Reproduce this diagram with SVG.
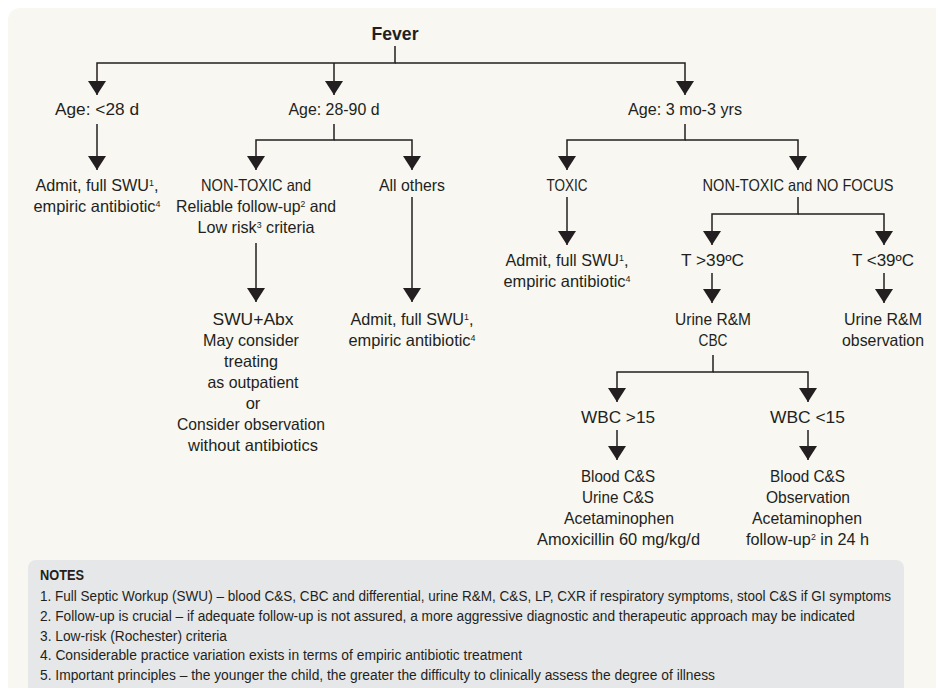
<svg xmlns="http://www.w3.org/2000/svg" width="936" height="688" viewBox="0 0 936 688">
<style>
text{font-family:"Liberation Sans",Arial,sans-serif;fill:#231f20;}
.n{font-size:16.5px;text-anchor:middle;}
.b{font-weight:bold;}
.s{font-size:9px;}
.note{font-size:14px;}
.c{fill:none;stroke:#231f20;stroke-width:1.5;}
</style>
<defs>
<marker id="ah" markerUnits="userSpaceOnUse" markerWidth="14" markerHeight="18" refX="14" refY="9" orient="auto" viewBox="0 0 14 18">
<path d="M0,0 L14,9 L0,18 z" fill="#231f20"/>
</marker>
</defs>
<rect id="panel" x="8" y="8" width="960" height="720" rx="12" fill="#f8f7f1"/>
<g id="connectors" class="c" marker-end="url(#ah)">
<path d="M395,46 V63 H97 V95"/>
<path d="M334,63 V95"/>
<path d="M395,63 H685 V95"/>
<path d="M97,124 V170"/>
<path d="M334,124 V140 H256 V170"/>
<path d="M334,140 H412 V170"/>
<path d="M685,124 V140 H567 V170"/>
<path d="M685,140 H798 V170"/>
<path d="M256,243 V302"/>
<path d="M412,197 V302"/>
<path d="M567,197 V245"/>
<path d="M798,197 V214 H712 V245"/>
<path d="M798,214 H884 V245"/>
<path d="M712,273 V303"/>
<path d="M884,273 V303"/>
<path d="M713,355 V372 H617 V402"/>
<path d="M713,372 H808 V402"/>
<path d="M617,430 V460"/>
<path d="M808,430 V460"/>
</g>
<g id="fever"><text class="n b" x="395" y="40" style="font-size:19px" textLength="47" lengthAdjust="spacingAndGlyphs">Fever</text></g>
<g id="age1"><text class="n" x="97" y="115" textLength="84" lengthAdjust="spacingAndGlyphs">Age: &lt;28 d</text></g>
<g id="age2"><text class="n" x="334" y="115" textLength="91" lengthAdjust="spacingAndGlyphs">Age: 28-90 d</text></g>
<g id="age3"><text class="n" x="685" y="115" textLength="114" lengthAdjust="spacingAndGlyphs">Age: 3 mo-3 yrs</text></g>
<g id="admit1"><text class="n" x="97" y="191" textLength="123" lengthAdjust="spacingAndGlyphs">Admit, full SWU<tspan class="s" dy="-5">1</tspan><tspan dy="5">,</tspan></text>
<text class="n" x="97" y="212" textLength="127" lengthAdjust="spacingAndGlyphs">empiric antibiotic<tspan class="s" dy="-5">4</tspan></text></g>
<g id="nontoxic1"><text class="n" x="256" y="191" textLength="110" lengthAdjust="spacingAndGlyphs">NON-TOXIC and</text>
<text class="n" x="256" y="212" textLength="160" lengthAdjust="spacingAndGlyphs">Reliable follow-up<tspan class="s" dy="-5">2</tspan><tspan dy="5"> and</tspan></text>
<text class="n" x="256" y="233" textLength="117" lengthAdjust="spacingAndGlyphs">Low risk<tspan class="s" dy="-5">3</tspan><tspan dy="5"> criteria</tspan></text></g>
<g id="allothers"><text class="n" x="412" y="191" textLength="66" lengthAdjust="spacingAndGlyphs">All others</text></g>
<g id="swu"><text class="n" x="253" y="325" textLength="81" lengthAdjust="spacingAndGlyphs">SWU+Abx</text>
<text class="n" x="251" y="346" textLength="96" lengthAdjust="spacingAndGlyphs">May consider</text>
<text class="n" x="251" y="367" textLength="54" lengthAdjust="spacingAndGlyphs">treating</text>
<text class="n" x="253" y="388" textLength="91" lengthAdjust="spacingAndGlyphs">as outpatient</text>
<text class="n" x="253" y="409">or</text>
<text class="n" x="251" y="430" textLength="148" lengthAdjust="spacingAndGlyphs">Consider observation</text>
<text class="n" x="253" y="451" textLength="130" lengthAdjust="spacingAndGlyphs">without antibiotics</text></g>
<g id="admit2"><text class="n" x="412" y="325" textLength="123" lengthAdjust="spacingAndGlyphs">Admit, full SWU<tspan class="s" dy="-5">1</tspan><tspan dy="5">,</tspan></text>
<text class="n" x="412" y="346" textLength="127" lengthAdjust="spacingAndGlyphs">empiric antibiotic<tspan class="s" dy="-5">4</tspan></text></g>
<g id="toxic"><text class="n" x="567" y="191" textLength="41" lengthAdjust="spacingAndGlyphs">TOXIC</text></g>
<g id="nofocus"><text class="n" x="798" y="191" textLength="191" lengthAdjust="spacingAndGlyphs">NON-TOXIC and NO FOCUS</text></g>
<g id="admit3"><text class="n" x="567" y="266" textLength="123" lengthAdjust="spacingAndGlyphs">Admit, full SWU<tspan class="s" dy="-5">1</tspan><tspan dy="5">,</tspan></text>
<text class="n" x="567" y="287" textLength="127" lengthAdjust="spacingAndGlyphs">empiric antibiotic<tspan class="s" dy="-5">4</tspan></text></g>
<g id="thigh"><text class="n" x="712.5" y="266" textLength="63" lengthAdjust="spacingAndGlyphs">T &gt;39ºC</text></g>
<g id="tlow"><text class="n" x="883" y="266" textLength="62" lengthAdjust="spacingAndGlyphs">T &lt;39ºC</text></g>
<g id="urinecbc"><text class="n" x="713" y="325" textLength="76" lengthAdjust="spacingAndGlyphs">Urine R&amp;M</text>
<text class="n" x="713" y="346" textLength="29" lengthAdjust="spacingAndGlyphs">CBC</text></g>
<g id="urineobs"><text class="n" x="883" y="325" textLength="78" lengthAdjust="spacingAndGlyphs">Urine R&amp;M</text>
<text class="n" x="883" y="346" textLength="82" lengthAdjust="spacingAndGlyphs">observation</text></g>
<g id="wbchigh"><text class="n" x="618" y="423" textLength="74" lengthAdjust="spacingAndGlyphs">WBC &gt;15</text></g>
<g id="wbclow"><text class="n" x="807.5" y="423" textLength="75" lengthAdjust="spacingAndGlyphs">WBC &lt;15</text></g>
<g id="treat1"><text class="n" x="618" y="482" textLength="74" lengthAdjust="spacingAndGlyphs">Blood C&amp;S</text>
<text class="n" x="618" y="503" textLength="72" lengthAdjust="spacingAndGlyphs">Urine C&amp;S</text>
<text class="n" x="619" y="524" textLength="110" lengthAdjust="spacingAndGlyphs">Acetaminophen</text>
<text class="n" x="618.5" y="545" textLength="163" lengthAdjust="spacingAndGlyphs">Amoxicillin 60 mg/kg/d</text></g>
<g id="treat2"><text class="n" x="807.5" y="482" textLength="75" lengthAdjust="spacingAndGlyphs">Blood C&amp;S</text>
<text class="n" x="808" y="503" textLength="84" lengthAdjust="spacingAndGlyphs">Observation</text>
<text class="n" x="807" y="524" textLength="110" lengthAdjust="spacingAndGlyphs">Acetaminophen</text>
<text class="n" x="807.5" y="545" textLength="123" lengthAdjust="spacingAndGlyphs">follow-up<tspan class="s" dy="-5">2</tspan><tspan dy="5"> in 24 h</tspan></text></g>
<g id="notes">
<path d="M28,688 V568 a8,8 0 0 1 8,-8 H896 a8,8 0 0 1 8,8 V688 z" fill="#e6e7e8"/>
<text class="b" x="40" y="580" style="font-size:14px" textLength="44" lengthAdjust="spacingAndGlyphs">NOTES</text>
<text class="note" x="40" y="601" textLength="851" lengthAdjust="spacingAndGlyphs">1. Full Septic Workup (SWU) – blood C&amp;S, CBC and differential, urine R&amp;M, C&amp;S, LP, CXR if respiratory symptoms, stool C&amp;S if GI symptoms</text>
<text class="note" x="40" y="621" textLength="815" lengthAdjust="spacingAndGlyphs">2. Follow-up is crucial – if adequate follow-up is not assured, a more aggressive diagnostic and therapeutic approach may be indicated</text>
<text class="note" x="40" y="641" textLength="187" lengthAdjust="spacingAndGlyphs">3. Low-risk (Rochester) criteria</text>
<text class="note" x="40" y="660" textLength="482" lengthAdjust="spacingAndGlyphs">4. Considerable practice variation exists in terms of empiric antibiotic treatment</text>
<text class="note" x="40" y="680" textLength="675" lengthAdjust="spacingAndGlyphs">5. Important principles – the younger the child, the greater the difficulty to clinically assess the degree of illness</text>
</g>
</svg>
